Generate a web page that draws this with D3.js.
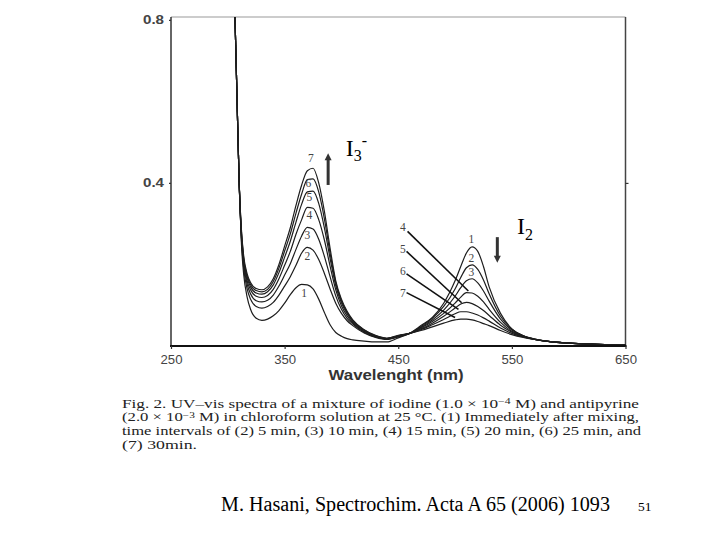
<!DOCTYPE html>
<html>
<head>
<meta charset="utf-8">
<script src="https://cdn.jsdelivr.net/npm/d3@7"></script>
<style>
  body { margin: 0; background: #fff; }
  svg { display: block; }
</style>
</head>
<body>
<svg id="chart" width="720" height="540"></svg>
<script>
// wavelength grid (nm), shared by all spectra
const wavelengths = [304, 306, 308, 310, 312, 314, 317, 320, 325,
  330, 335, 340, 345, 350, 355, 360, 365, 370, 375, 380, 385, 390, 395, 400, 405, 410,
  420, 430, 440, 450, 460, 470, 480, 490, 500,
  505, 510, 515, 520, 525, 530,
  540, 550, 560, 570, 580,
  600, 625, 650];

// absorbance, (1) immediately ... (7) 30 min
const spectrum1 = [1.0, 0.84, 0.62, 0.40, 0.25, 0.175, 0.12, 0.09, 0.068,
  0.063, 0.066, 0.074, 0.087, 0.105, 0.126, 0.143, 0.151, 0.150, 0.140, 0.115, 0.082, 0.052, 0.033, 0.024, 0.018, 0.015,
  0.012, 0.010, 0.010, 0.020, 0.031, 0.050, 0.070, 0.105, 0.160,
  0.195, 0.228, 0.243, 0.232, 0.195, 0.145,
  0.080, 0.042, 0.025, 0.017, 0.012,
  0.007, 0.004, 0.002];
const spectrum2 = [1.0, 0.84, 0.62, 0.40, 0.26, 0.19, 0.14, 0.115, 0.097,
  0.093, 0.097, 0.107, 0.125, 0.147, 0.170, 0.198, 0.228, 0.242, 0.235, 0.212, 0.178, 0.140, 0.105, 0.080, 0.062, 0.050,
  0.032, 0.021, 0.016, 0.022, 0.031, 0.048, 0.068, 0.097, 0.140,
  0.168, 0.192, 0.199, 0.188, 0.162, 0.128,
  0.073, 0.041, 0.025, 0.017, 0.012,
  0.007, 0.004, 0.002];
const spectrum3 = [1.0, 0.84, 0.62, 0.40, 0.265, 0.20, 0.152, 0.128, 0.111,
  0.108, 0.112, 0.125, 0.147, 0.174, 0.202, 0.237, 0.270, 0.291, 0.287, 0.262, 0.220, 0.170, 0.123, 0.090, 0.068, 0.054,
  0.034, 0.022, 0.017, 0.023, 0.031, 0.046, 0.064, 0.088, 0.122,
  0.143, 0.160, 0.165, 0.155, 0.135, 0.110,
  0.066, 0.039, 0.025, 0.017, 0.012,
  0.007, 0.004, 0.002];
const spectrum4 = [1.0, 0.84, 0.62, 0.40, 0.27, 0.205, 0.16, 0.138, 0.122,
  0.119, 0.124, 0.139, 0.165, 0.198, 0.232, 0.274, 0.310, 0.340, 0.338, 0.310, 0.260, 0.196, 0.138, 0.099, 0.074, 0.057,
  0.036, 0.023, 0.018, 0.024, 0.031, 0.044, 0.060, 0.080, 0.105,
  0.120, 0.131, 0.130, 0.122, 0.108, 0.090,
  0.058, 0.036, 0.024, 0.016, 0.012,
  0.007, 0.004, 0.002];
const spectrum5 = [1.0, 0.84, 0.62, 0.40, 0.275, 0.21, 0.167, 0.145, 0.130,
  0.127, 0.133, 0.150, 0.180, 0.218, 0.257, 0.304, 0.348, 0.378, 0.380, 0.350, 0.290, 0.215, 0.148, 0.106, 0.079, 0.060,
  0.038, 0.024, 0.018, 0.025, 0.031, 0.042, 0.056, 0.073, 0.093,
  0.103, 0.107, 0.104, 0.097, 0.087, 0.075,
  0.051, 0.034, 0.023, 0.016, 0.012,
  0.007, 0.004, 0.002];
const spectrum6 = [1.0, 0.84, 0.62, 0.40, 0.28, 0.215, 0.172, 0.151, 0.136,
  0.133, 0.139, 0.158, 0.191, 0.233, 0.275, 0.326, 0.373, 0.408, 0.410, 0.378, 0.312, 0.228, 0.155, 0.111, 0.082, 0.062,
  0.039, 0.025, 0.019, 0.025, 0.031, 0.040, 0.052, 0.065, 0.079,
  0.084, 0.084, 0.081, 0.076, 0.069, 0.061,
  0.044, 0.031, 0.022, 0.016, 0.012,
  0.007, 0.004, 0.002];
const spectrum7 = [1.0, 0.84, 0.62, 0.40, 0.285, 0.22, 0.177, 0.156, 0.141,
  0.138, 0.145, 0.165, 0.200, 0.245, 0.290, 0.345, 0.395, 0.430, 0.436, 0.400, 0.330, 0.240, 0.160, 0.115, 0.085, 0.064,
  0.040, 0.026, 0.019, 0.026, 0.031, 0.038, 0.047, 0.056, 0.064,
  0.066, 0.066, 0.064, 0.060, 0.055, 0.050,
  0.038, 0.028, 0.021, 0.016, 0.012,
  0.007, 0.004, 0.002];

const xTicks = [250, 350, 450, 550, 650];
const yTicks = [0.4, 0.8];

// curve number labels: [text, wavelength, absorbance]
const labelsI3 = [['1', 367.2, 0.129], ['2', 370, 0.220], ['3', 370, 0.273], ['4', 371.7, 0.322],
  ['5', 371.7, 0.366], ['6', 370.9, 0.400], ['7', 373, 0.461]];
const labelsI2 = [['1', 514.3, 0.263], ['2', 514.3, 0.217], ['3', 514.3, 0.181],
  ['4', 454, 0.292], ['5', 454, 0.239], ['6', 454, 0.183], ['7', 454, 0.131]];
// leader lines for 4..7: [x1, y1, x2, y2] in data units
const leaders = [[458.2, 0.281, 511.7, 0.135], [457.3, 0.232, 505.8, 0.106],
  [457.3, 0.177, 503, 0.090], [457.3, 0.131, 500, 0.070]];
// arrows: [wavelength, tail, tip]
const arrows = [[388.3, 0.395, 0.473], [537.2, 0.267, 0.204]];

const captionLines = [
  ['Fig. 2. UV\u2013vis spectra of a mixture of iodine (1.0 \u00d7 10', '\u22124', ' M) and antipyrine', 517],
  ['(2.0 \u00d7 10', '\u22123', ' M) in chloroform solution at 25 \u00b0C. (1) Immediately after mixing,', 517],
  ['time intervals of (2) 5 min, (3) 10 min, (4) 15 min, (5) 20 min, (6) 25 min, and', '', '', 519],
  ['(7) 30min.', '', '', 75]
];

const spectra = [spectrum1, spectrum2, spectrum3, spectrum4, spectrum5, spectrum6, spectrum7];

const svg = d3.select('#chart');
const plotLeft = 171, plotRight = 625.5, plotTop = 17, plotBottom = 346;

const x = d3.scaleLinear().domain([250, 650]).range([plotLeft, plotRight]);
const y = d3.scaleLinear().domain([0, 0.807]).range([plotBottom, plotTop]);

svg.append('rect').attr('width', 720).attr('height', 540).attr('fill', '#fff');

svg.append('clipPath').attr('id', 'plotclip')
  .append('rect')
  .attr('x', plotLeft).attr('y', plotTop)
  .attr('width', plotRight - plotLeft).attr('height', plotBottom - plotTop);

// frame
svg.append('line').attr('x1', plotLeft).attr('x2', plotRight).attr('y1', plotTop).attr('y2', plotTop)
  .style('stroke', '#999').style('stroke-width', 1.2);
svg.append('line').attr('x1', plotRight).attr('x2', plotRight).attr('y1', plotTop).attr('y2', plotBottom)
  .style('stroke', '#444').style('stroke-width', 1.5);
svg.append('line').attr('x1', plotLeft).attr('x2', plotLeft).attr('y1', plotTop).attr('y2', plotBottom)
  .style('stroke', '#333').style('stroke-width', 1.5);

let line = d3.line()
  .x((d, i) => x(wavelengths[i]))
  .y(d => y(d))
  .curve(d3.curveMonotoneX);

svg.append('g').attr('clip-path', 'url(#plotclip)')
  .selectAll('.spectrum').data(spectra)
  .enter()
  .append('path')
  .attr('class', 'spectrum')
  .attr('d', d => line(d))
  .attr('fill', 'none')
  .style('stroke', '#1e1e1e')
  .style('stroke-width', 1.2);

svg.append('line').attr('x1', plotLeft - 1).attr('x2', plotRight + 1).attr('y1', plotBottom).attr('y2', plotBottom)
  .style('stroke', '#111').style('stroke-width', 2);

// axes
let xAxis = svg.append('g')
  .attr('transform', 'translate(0,' + plotBottom + ')')
  .call(d3.axisBottom(x).tickValues(xTicks).tickSize(3).tickPadding(6));
let yAxis = svg.append('g')
  .attr('transform', 'translate(' + plotLeft + ',0)')
  .call(d3.axisLeft(y).tickValues(yTicks).tickSize(2).tickPadding(5).tickFormat(d3.format('.1f')));
let yAxisRight = svg.append('g')
  .attr('transform', 'translate(' + plotRight + ',0)')
  .call(d3.axisRight(y).tickValues([0.4]).tickSize(3).tickFormat(''));

[xAxis, yAxis, yAxisRight].forEach(g => {
  g.select('.domain').remove();
  g.selectAll('.tick line').style('stroke', '#333').style('stroke-width', 1.2);
  g.selectAll('.tick text')
    .style('font-family', 'Liberation Sans, Arial, sans-serif')
    .style('font-size', '12px')
    .style('fill', '#444')
    .attr('lengthAdjust', 'spacingAndGlyphs');
});
xAxis.selectAll('.tick text').attr('textLength', 22);
yAxis.selectAll('.tick text').attr('textLength', 21).style('font-weight', 'bold');

svg.append('text')
  .attr('x', 396).attr('y', 380)
  .attr('text-anchor', 'middle')
  .attr('textLength', 135).attr('lengthAdjust', 'spacingAndGlyphs')
  .style('font-family', 'Liberation Sans, Arial, sans-serif')
  .style('font-weight', 'bold')
  .style('font-size', '15px')
  .style('fill', '#333')
  .text('Wavelenght (nm)');

// leader lines
svg.selectAll('.leader').data(leaders)
  .enter()
  .append('line')
  .attr('x1', d => x(d[0])).attr('y1', d => y(d[1]))
  .attr('x2', d => x(d[2])).attr('y2', d => y(d[3]))
  .style('stroke', '#111').style('stroke-width', 1.6);

// curve numbers
svg.selectAll('.num').data(labelsI3.concat(labelsI2))
  .enter()
  .append('text')
  .attr('x', d => x(d[1])).attr('y', d => y(d[2]))
  .attr('dy', '0.35em')
  .attr('text-anchor', 'middle')
  .style('font-family', 'Liberation Serif, Times New Roman, serif')
  .style('font-size', '11.5px')
  .style('fill', '#444')
  .text(d => d[0]);

// arrows
arrows.forEach(a => {
  let xa = x(a[0]), yt = y(a[1]), yh = y(a[2]);
  let dir = yh < yt ? -1 : 1;
  svg.append('line')
    .attr('x1', xa).attr('x2', xa)
    .attr('y1', yt).attr('y2', yh - dir * 5)
    .style('stroke', '#333').style('stroke-width', 3);
  svg.append('path')
    .attr('d', 'M' + (xa - 3.5) + ',' + (yh - dir * 7) + 'L' + (xa + 3.5) + ',' + (yh - dir * 7) + 'L' + xa + ',' + yh + 'Z')
    .style('fill', '#333');
});

// species labels
let i3 = svg.append('text')
  .attr('x', x(403.8)).attr('y', y(0.466))
  .style('font-family', 'Liberation Serif, Times New Roman, serif')
  .style('font-size', '24px')
  .style('fill', '#000');
i3.append('tspan').text('I');
i3.append('tspan').attr('dy', 5).style('font-size', '16px').text('3');
i3.append('tspan').attr('dy', -15).style('font-size', '16px').text('-');

let i2 = svg.append('text')
  .attr('x', x(554.6)).attr('y', y(0.274))
  .style('font-family', 'Liberation Serif, Times New Roman, serif')
  .style('font-size', '24px')
  .style('fill', '#000');
i2.append('tspan').text('I');
i2.append('tspan').attr('dy', 6).style('font-size', '16px').text('2');

// caption
const captionBase = [407.5, 421, 435, 448.5];
captionLines.forEach((c, i) => {
  let t = svg.append('text')
    .attr('x', 122).attr('y', captionBase[i])
    .attr('textLength', c[3]).attr('lengthAdjust', 'spacingAndGlyphs')
    .style('font-family', 'Liberation Serif, Times New Roman, serif')
    .style('font-size', '12.5px')
    .style('fill', '#222');
  t.append('tspan').text(c[0]);
  if (c[1]) {
    t.append('tspan').attr('dy', -3.5).style('font-size', '8.5px').text(c[1]);
    t.append('tspan').attr('dy', 3.5).text(c[2]);
  }
});

svg.append('text')
  .attr('x', 221).attr('y', 511)
  .attr('textLength', 389).attr('lengthAdjust', 'spacingAndGlyphs')
  .style('font-family', 'Liberation Serif, Times New Roman, serif')
  .style('font-size', '20px')
  .style('fill', '#000')
  .text('M. Hasani, Spectrochim. Acta A 65 (2006) 1093');

svg.append('text')
  .attr('x', 638).attr('y', 511)
  .style('font-family', 'Liberation Serif, Times New Roman, serif')
  .style('font-size', '13.5px')
  .style('fill', '#000')
  .text('51');
</script>
</body>
</html>
